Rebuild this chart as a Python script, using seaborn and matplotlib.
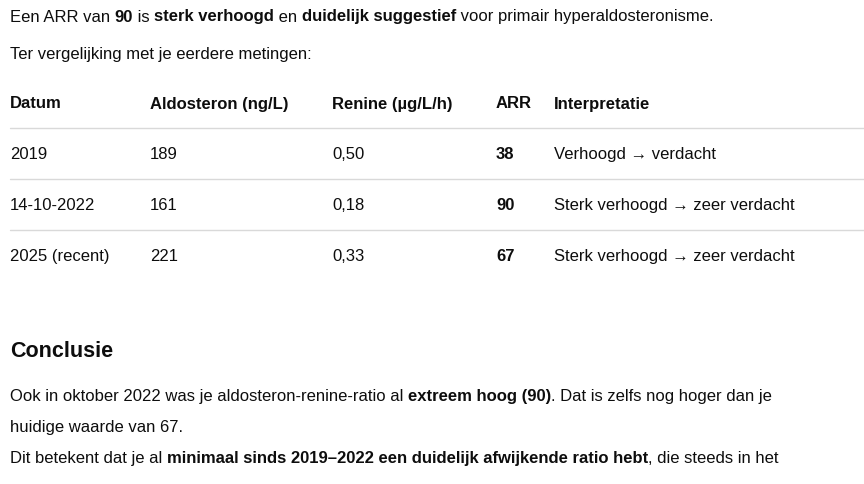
import matplotlib
matplotlib.use("Agg")
import matplotlib.pyplot as plt
import seaborn as sns

sns.set_theme(style="white")
plt.rcParams['font.family'] = ['Liberation Sans', 'DejaVu Sans']

headers = ["Datum", "Aldosteron (ng/L)", "Renine (µg/L/h)", "ARR", "Interpretatie"]
dates = ["2019", "14-10-2022", "2025 (recent)"]
aldosteron = ["189", "161", "221"]
renine = ["0,50", "0,18", "0,33"]
arr = ["38", "90", "67"]
interpretatie = ["Verhoogd → verdacht", "Sterk verhoogd → zeer verdacht", "Sterk verhoogd → zeer verdacht"]

col_x = [10, 150, 332, 496, 554]
FS = 12
COL = "#0d0d0d"

fig = plt.figure(figsize=(8.64, 4.85), dpi=100)
ax = fig.add_axes([0, 0, 1, 1])
ax.set_xlim(0, 864)
ax.set_ylim(485, 0)
ax.axis("off")
fig.canvas.draw()
renderer = fig.canvas.get_renderer()
inv = ax.transData.inverted()

def rich(x, y, parts, size=FS):
    for txt, bold in parts:
        t = ax.text(x, y, txt, fontsize=size, fontweight="bold" if bold else "normal",
                    color=COL, va="center", ha="left")
        bb = t.get_window_extent(renderer)
        x = inv.transform((bb.x1, bb.y0))[0]

rich(10, 17, [("Een ARR van ", False), ("90", True), (" is ", False), ("sterk verhoogd", True),
              (" en ", False), ("duidelijk suggestief", True), (" voor primair hyperaldosteronisme.", False)])
rich(10, 55, [("Ter vergelijking met je eerdere metingen:", False)])

for h, x in zip(headers, col_x):
    ax.text(x, 104, h, fontsize=FS, fontweight="bold", color=COL, va="center")

for yl in [129, 180, 231]:
    ax.plot([10, 864], [yl, yl], color="#d9d9d9", lw=1)

for i in range(len(dates)):
    y = 155 + 51 * i
    vals = [dates[i], aldosteron[i], renine[i], arr[i], interpretatie[i]]
    for j, (v, x) in enumerate(zip(vals, col_x)):
        ax.text(x, y, v, fontsize=FS, fontweight="bold" if j == 3 else "normal",
                color=COL, va="center")

ax.text(10, 352, "Conclusie", fontsize=15.5, fontweight="bold", color=COL, va="center")

rich(10, 397, [("Ook in oktober 2022 was je aldosteron-renine-ratio al ", False), ("extreem hoog (90)", True),
               (". Dat is zelfs nog hoger dan je", False)])
rich(10, 428, [("huidige waarde van 67.", False)])
rich(10, 459, [("Dit betekent dat je al ", False), ("minimaal sinds 2019–2022 een duidelijk afwijkende ratio hebt", True),
               (", die steeds in het", False)])

fig.savefig("out.png", dpi=100, facecolor="white")
